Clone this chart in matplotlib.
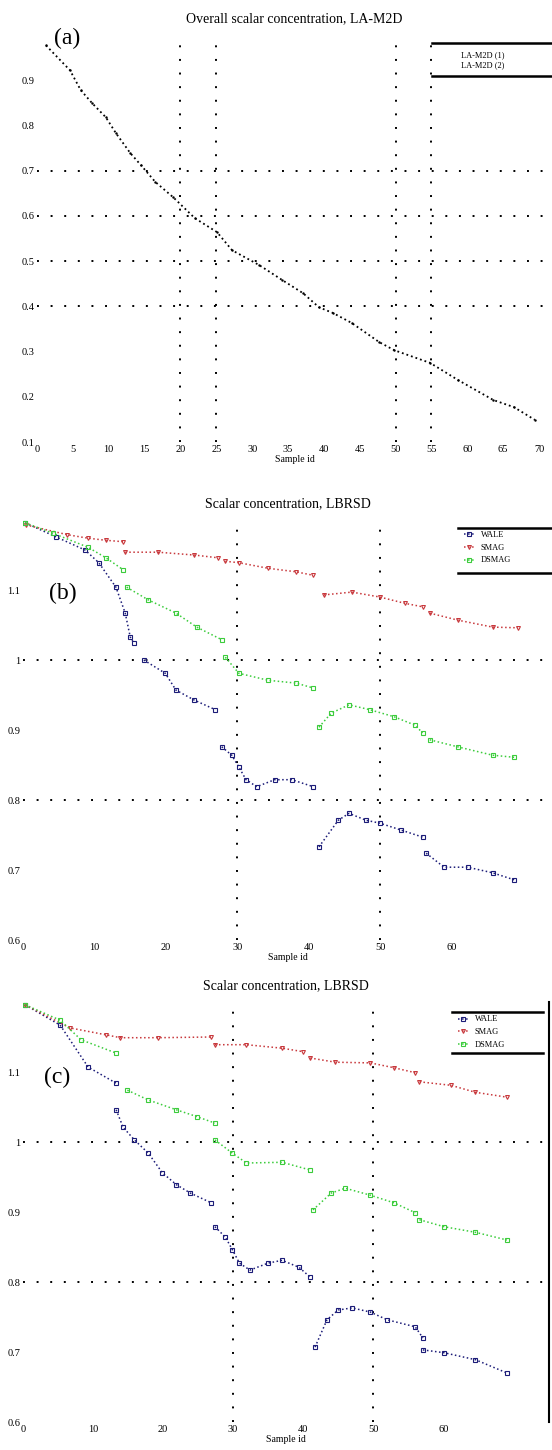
import numpy as np
import matplotlib
matplotlib.use("Agg")
import matplotlib.pyplot as plt
from matplotlib.lines import Line2D

plt.rcParams['font.family'] = ['Liberation Serif', 'DejaVu Serif']

nan = np.nan

# (a) overall scalar concentration
overall_x = [1.25, 4.6, 6.1, 7.7, 9.6, 11.0, 13.0, 14.5, 16.5, 19.0, 22.0, 25.1, 27.2,
             31.0, 34.2, 37.1, 39.3, 41.3, 43.9, 47.7, 49.8, 54.8, 58.7, 63.6, 66.5, 69.4]
overall_y = [0.977, 0.922, 0.878, 0.849, 0.818, 0.783, 0.739, 0.712, 0.675, 0.641, 0.595,
             0.564, 0.524, 0.491, 0.458, 0.429, 0.398, 0.385, 0.363, 0.321, 0.303, 0.275,
             0.237, 0.193, 0.177, 0.149]
overall_labels = ["LA-M2D (1)", "LA-M2D (2)"]

# (b) scalar concentration, segments split by nan
b_red_x = [0.4, 6.2, 9.1, 11.6, 14.0, nan, 14.3, 18.9, 23.9, 27.3, nan, 28.3, 30.2, 34.3,
           38.2, 40.6, nan, 42.1, 46.0, 49.9, 53.4, 55.9, nan, 56.9, 60.8, 65.7, 69.2]
b_red_y = [1.193, 1.179, 1.174, 1.171, 1.169, nan, 1.154, 1.154, 1.150, 1.146, nan, 1.141,
           1.139, 1.131, 1.126, 1.121, nan, 1.093, 1.097, 1.090, 1.081, 1.076, nan, 1.067,
           1.057, 1.047, 1.046]
b_green_x = [0.3, 4.2, 9.1, 11.6, 14.0, nan, 14.5, 17.5, 21.4, 24.3, 27.8, nan, 28.3, 30.2,
             34.3, 38.2, 40.6, nan, 41.4, 43.1, 45.6, 48.5, 51.9, 54.8, 55.9, nan, 56.9,
             60.8, 65.7, 68.7]
b_green_y = [1.196, 1.181, 1.161, 1.146, 1.129, nan, 1.104, 1.086, 1.067, 1.047, 1.029, nan,
             1.004, 0.981, 0.971, 0.967, 0.960, nan, 0.904, 0.924, 0.936, 0.929, 0.919,
             0.907, 0.896, nan, 0.886, 0.876, 0.864, 0.861]
b_blue_x = [0.3, 4.6, 8.7, 10.6, 13.0, 14.3, 15.0, 15.5, nan, 16.9, 19.9, 21.4, 23.9, 26.9,
            nan, 27.8, 29.2, 30.2, 31.2, 32.7, 35.2, 37.6, 40.6, nan, 41.4, 44.1, 45.6,
            48.0, 49.9, 52.9, 55.9, nan, 56.4, 58.9, 62.2, 65.7, 68.7]
b_blue_y = [1.196, 1.176, 1.157, 1.139, 1.104, 1.067, 1.033, 1.024, nan, 1.000, 0.981,
            0.957, 0.943, 0.929, nan, 0.876, 0.864, 0.847, 0.829, 0.819, 0.829, 0.829,
            0.819, nan, 0.733, 0.771, 0.781, 0.771, 0.767, 0.757, 0.747, nan, 0.724,
            0.704, 0.704, 0.696, 0.686]

# (c) scalar concentration
c_red_x = [0.3, 6.7, 11.9, 13.9, 19.3, 26.9, nan, 27.4, 31.9, 37.0, 40.0, nan, 41.0, 44.6,
           49.6, 53.0, 56.0, nan, 56.6, 61.1, 64.6, 69.1]
c_red_y = [1.196, 1.163, 1.153, 1.149, 1.149, 1.150, nan, 1.139, 1.139, 1.134, 1.129, nan,
           1.120, 1.114, 1.113, 1.106, 1.099, nan, 1.086, 1.081, 1.071, 1.064]
c_green_x = [0.3, 5.3, 8.3, 13.3, nan, 14.9, 17.9, 21.9, 24.9, 27.4, nan, 27.4, 29.9, 31.9,
             37.0, 41.0, nan, 41.4, 44.0, 46.0, 49.6, 53.0, 56.0, nan, 56.6, 60.1, 64.6, 69.1]
c_green_y = [1.196, 1.174, 1.146, 1.127, nan, 1.074, 1.060, 1.046, 1.036, 1.027, nan, 1.003,
             0.984, 0.970, 0.971, 0.960, nan, 0.903, 0.927, 0.934, 0.924, 0.913, 0.899, nan,
             0.889, 0.879, 0.871, 0.860]
c_blue_x = [0.3, 5.3, 9.3, 13.3, nan, 13.3, 14.3, 15.9, 17.9, 19.9, 21.9, 23.9, 26.9, nan,
            27.4, 28.9, 29.9, 30.9, 32.4, 35.0, 37.0, 39.4, 41.0, nan, 41.7, 43.4, 45.0,
            47.0, 49.6, 52.0, 56.0, 57.1, nan, 57.1, 60.1, 64.6, 69.1]
c_blue_y = [1.196, 1.167, 1.107, 1.084, nan, 1.046, 1.021, 1.003, 0.984, 0.956, 0.939,
            0.927, 0.913, nan, 0.879, 0.864, 0.846, 0.827, 0.817, 0.827, 0.831, 0.821,
            0.807, nan, 0.707, 0.746, 0.760, 0.763, 0.757, 0.746, 0.736, 0.720, nan,
            0.703, 0.699, 0.689, 0.670]

series_names = ["WALE", "SMAG", "DSMAG"]

a_xticks = np.arange(0, 75, 5)
a_yticks = np.arange(0.1, 0.95, 0.1)
bc_xticks = np.arange(0, 70, 10)
bc_yticks = np.arange(0.6, 1.15, 0.1)

grid_style = dict(color='k', lw=1.4, linestyle=(0, (1, 6)), zorder=0)

fig = plt.figure(figsize=(5.52, 14.5), dpi=100)
W, H = 552.0, 1450.0
ax1 = fig.add_axes([37 / W, 1 - 442 / H, 515 / W, 407 / H])
ax2 = fig.add_axes([23 / W, 1 - 940 / H, 529 / W, 420 / H])
ax3 = fig.add_axes([23 / W, 1 - 1422 / H, 526 / W, 420 / H])


def style_axes(ax, xticks, yticks, fmt):
    for s in ax.spines.values():
        s.set_visible(False)
    ax.set_xticks(xticks)
    ax.set_yticks(yticks)
    ax.set_yticklabels([fmt(v) for v in yticks])
    ax.tick_params(length=0, labelsize=7.5, pad=2)
    ax.set_xlabel("Sample id", fontsize=7, labelpad=1)


def legend_rules(ax, x0, x1, ytop, ybot):
    for yy in (ytop, ybot):
        ax.add_line(Line2D([x0, x1], [yy, yy], transform=ax.transAxes,
                           color='k', lw=1.8, clip_on=False))


# ---- (a)
ax1.plot(overall_x, overall_y, color='k', lw=1.3, linestyle=':', marker='.', ms=1.5)
ax1.set_xlim(0, 71.8)
ax1.set_ylim(0.1, 1.0)
style_axes(ax1, a_xticks, a_yticks, lambda v: "%.1f" % v)
for xv in (20, 25, 50, 55):
    ax1.axvline(xv, **grid_style)
for yv in (0.4, 0.5, 0.6, 0.7):
    ax1.axhline(yv, **grid_style)
ax1.set_title("Overall scalar concentration, LA-M2D", fontsize=10, pad=9)
blank = [Line2D([], [], color='none') for _ in overall_labels]
ax1.legend(blank, overall_labels, loc='upper left', bbox_to_anchor=(0.80, 0.962),
           frameon=False, fontsize=6, handlelength=0.5, borderpad=0.1,
           labelspacing=0.2, borderaxespad=0)
legend_rules(ax1, 0.767, 1.0, 0.980, 0.899)

# ---- (b) and (c)
panels = [
    (ax2, (b_red_x, b_red_y), (b_green_x, b_green_y), (b_blue_x, b_blue_y), 74.0,
     (458 - 23) / 529, 1.0, 0.981, 0.874),
    (ax3, (c_red_x, c_red_y), (c_green_x, c_green_y), (c_blue_x, c_blue_y), 75.1,
     (452 - 23) / 526, (543 - 23) / 526, 0.976, 0.879),
]
for ax, red, green, blue, xmax, x0, x1, ytop, ybot in panels:
    lb, = ax.plot(*blue, color='#1c1c78', lw=1.1, linestyle=':', marker='s', ms=2.5,
                  mfc='none', mew=0.8, label=series_names[0])
    lr, = ax.plot(*red, color='#c8383c', lw=1.1, linestyle=':', marker='v', ms=2.8,
                  mfc='none', mew=0.8, label=series_names[1])
    lg, = ax.plot(*green, color='#3ccc3c', lw=1.1, linestyle=':', marker='s', ms=2.5,
                  mfc='none', mew=0.8, label=series_names[2])
    ax.set_xlim(0, xmax)
    ax.set_ylim(0.6, 1.2)
    style_axes(ax, bc_xticks, bc_yticks, lambda v: "%g" % round(v, 1))
    for xv in (30, 50):
        ax.axvline(xv, **grid_style)
    for yv in (0.8, 1.0):
        ax.axhline(yv, **grid_style)
    ax.set_title("Scalar concentration, LBRSD", fontsize=10, pad=9)
    ax.legend(handles=[lb, lr, lg], loc='upper left', bbox_to_anchor=(x0 + 0.01, ytop - 0.006),
              frameon=False, fontsize=6, handlelength=1.2, borderpad=0.1,
              labelspacing=0.55, borderaxespad=0, handletextpad=0.8)
    legend_rules(ax, x0, x1, ytop, ybot)

# right frame line of (c)
ax3.spines['right'].set_visible(True)
ax3.spines['right'].set_linewidth(1.5)

fig.text(67 / W, 1 - 38 / H, "(a)", fontsize=17, ha='center', va='center')
fig.text(63 / W, 1 - 593 / H, "(b)", fontsize=17, ha='center', va='center')
fig.text(57 / W, 1 - 1077 / H, "(c)", fontsize=17, ha='center', va='center')

fig.savefig("out.png", dpi=100)
